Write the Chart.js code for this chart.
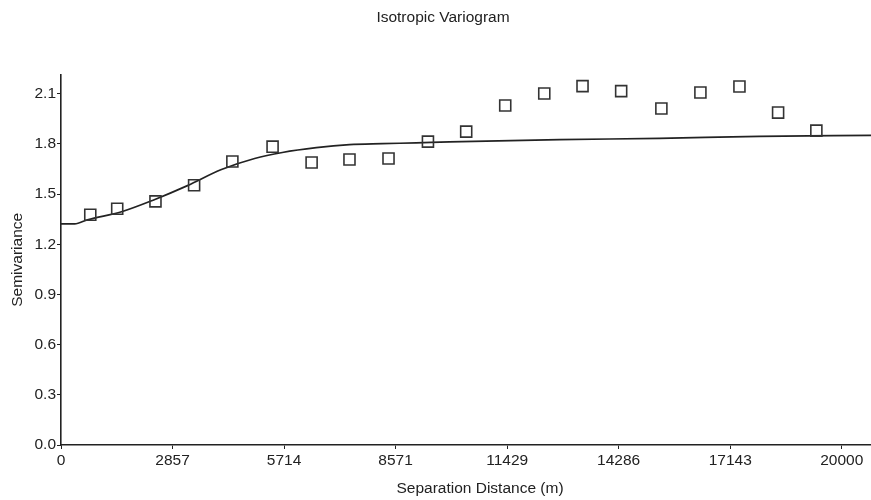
<!DOCTYPE html>
<html>
<head>
<meta charset="utf-8">
<script src="https://cdn.jsdelivr.net/npm/chart.js@4/dist/chart.umd.min.js"></script>
<style>
html,body{margin:0;padding:0;background:#fff;}
canvas{display:block;}
</style>
</head>
<body>
<canvas id="c" width="871" height="500"></canvas>
<script>
// Experimental variogram (lag distance in m, semivariance)
const lagDistance = [750, 1440, 2420, 3410, 4390, 5420, 6420, 7390, 8390, 9400,
                     10380, 11380, 12380, 13360, 14350, 15380, 16380, 17380, 18370, 19350];
const semivariance = [1.377, 1.413, 1.457, 1.553, 1.695, 1.784, 1.689, 1.707, 1.713, 1.814,
                      1.874, 2.030, 2.102, 2.146, 2.116, 2.012, 2.108, 2.144, 1.988, 1.880];
// Fitted model curve
const modelDistance = [0, 350, 680, 1550, 2390, 3240, 4110, 4960, 5670, 6540, 7390,
                       8230, 9100, 9950, 12770, 15330, 17890, 20750];
const modelSemivariance = [1.322, 1.322, 1.347, 1.395, 1.467, 1.551, 1.647, 1.713, 1.749, 1.778, 1.796,
                           1.802, 1.807, 1.813, 1.826, 1.834, 1.846, 1.852];
// Axis ticks
const xTicks = [0, 2857, 5714, 8571, 11429, 14286, 17143, 20000];
const yTicks = [0.0, 0.3, 0.6, 0.9, 1.2, 1.5, 1.8, 2.1];

const TITLE = 'Isotropic Variogram';
const X_TITLE = 'Separation Distance (m)';
const Y_TITLE = 'Semivariance';

const FONT = '"Liberation Sans", Arial, sans-serif';
const FSIZE = 15.5;
const INK = '#222';

const experimental = lagDistance.map((x, i) => ({x: x, y: semivariance[i]}));
const model = modelDistance.map((x, i) => ({x: x, y: modelSemivariance[i]}));

// x-axis title, drawn a little right of the plot centre as in the original
const xTitlePlugin = {
  id: 'xTitle',
  afterDraw(chart) {
    const {ctx, chartArea} = chart;
    ctx.save();
    ctx.font = FSIZE + 'px ' + FONT;
    ctx.fillStyle = INK;
    ctx.textAlign = 'center';
    ctx.textBaseline = 'middle';
    ctx.fillText(X_TITLE, (chartArea.left + chartArea.right) / 2 + 14, chart.height - 11.5);
    ctx.restore();
  }
};

new Chart(document.getElementById('c'), {
  type: 'scatter',
  data: {
    datasets: [
      {
        label: 'Model',
        data: model,
        showLine: true,
        borderColor: INK,
        borderWidth: 1.7,
        pointRadius: 0,
        cubicInterpolationMode: 'monotone',
        fill: false,
        clip: 10,
        order: 2
      },
      {
        label: 'Experimental',
        data: experimental,
        showLine: false,
        pointStyle: 'rect',
        pointRadius: 7.8,
        pointHoverRadius: 7.8,
        pointBorderWidth: 1.6,
        pointBorderColor: '#333',
        pointBackgroundColor: 'rgba(255,255,255,0)',
        clip: 10,
        order: 1
      }
    ]
  },
  plugins: [xTitlePlugin],
  options: {
    responsive: false,
    animation: false,
    events: [],
    layout: {autoPadding: false, padding: {left: 15, right: 0, top: 0, bottom: 0}},
    plugins: {
      legend: {display: false},
      tooltip: {enabled: false},
      title: {
        display: true,
        text: TITLE,
        color: INK,
        font: {family: FONT, size: FSIZE, weight: 'normal'},
        padding: {top: 8, bottom: 48}
      }
    },
    scales: {
      x: {
        type: 'linear',
        min: 0,
        max: 20750,
        afterBuildTicks: (axis) => { axis.ticks = xTicks.map(v => ({value: v})); },
        afterFit: (scale) => { scale.height = 55; scale.paddingLeft = 0; scale.paddingRight = 0; },
        ticks: {
          autoSkip: false,
          maxRotation: 0,
          color: INK,
          padding: 2,
          font: {family: FONT, size: FSIZE},
          callback: (v) => String(v)
        },
        grid: {drawOnChartArea: false, drawTicks: true, tickLength: 4, color: INK, lineWidth: 1},
        border: {display: true, color: INK, width: 1.6},
        title: {display: false}
      },
      y: {
        type: 'linear',
        min: 0,
        max: 2.215,
        afterBuildTicks: (axis) => { axis.ticks = yTicks.map(v => ({value: v})); },
        afterFit: (scale) => { scale.width = 46; scale.paddingTop = 0; scale.paddingBottom = 0; },
        ticks: {
          autoSkip: false,
          color: INK,
          padding: 1,
          font: {family: FONT, size: FSIZE},
          callback: (v) => Number(v).toFixed(1)
        },
        grid: {drawOnChartArea: false, drawTicks: true, tickLength: 4, color: INK, lineWidth: 1},
        border: {display: true, color: INK, width: 1.6},
        title: {
          display: true,
          text: Y_TITLE,
          color: INK,
          font: {family: FONT, size: FSIZE},
          padding: {top: -7, bottom: 0}
        }
      }
    }
  }
});
</script>
</body>
</html>
